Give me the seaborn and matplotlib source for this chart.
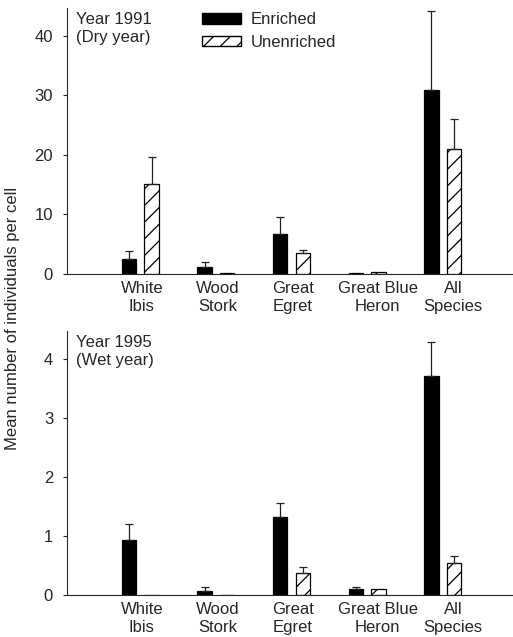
"""
Mean number of wading birds per cell, enriched vs unenriched cells,
dry year (1991) and wet year (1995).
"""
import seaborn as sns
import pandas as pd
import matplotlib
matplotlib.use("Agg")
import matplotlib.pyplot as plt
from matplotlib.patches import Patch

species = ["White\nIbis", "Wood\nStork", "Great\nEgret", "Great Blue\nHeron", "All\nSpecies"]
treatments = ["Enriched", "Unenriched"]

# 1991 (dry year)
enr_1991 = [2.6, 1.2, 6.8, 0.15, 30.9]
enr_1991_se = [1.3, 0.8, 2.7, 0.0, 13.3]
unenr_1991 = [15.1, 0.2, 3.5, 0.25, 21.0]
unenr_1991_se = [4.5, 0.0, 0.5, 0.0, 5.0]

# 1995 (wet year)
enr_1995 = [0.93, 0.07, 1.33, 0.11, 3.72]
enr_1995_se = [0.27, 0.06, 0.23, 0.03, 0.57]
unenr_1995 = [0.0, 0.0, 0.38, 0.10, 0.55]
unenr_1995_se = [0.0, 0.0, 0.10, 0.0, 0.12]

# small nudge of the category labels, as in the original figure
label_shift = [0.02, 0.03, 0.02, 0.14, 0.14]

FS = 12
sns.set_style("ticks")
plt.rcParams["font.family"] = ["Liberation Sans", "DejaVu Sans"]
plt.rcParams["font.size"] = FS
plt.rcParams["hatch.linewidth"] = 0.9


def make_df(enr, unenr):
    return pd.DataFrame({
        "species": species * 2,
        "treatment": [treatments[0]] * len(species) + [treatments[1]] * len(species),
        "value": list(enr) + list(unenr),
    })


def draw_panel(ax, enr, enr_se, unenr, unenr_se, ymax, ticks, note):
    df = make_df(enr, unenr)
    sns.barplot(data=df, x="species", y="value", hue="treatment", order=species,
                hue_order=treatments, palette=["black", "white"], width=0.6,
                edgecolor="black", linewidth=0.9, errorbar=None, legend=False, ax=ax)
    errs = [enr_se, unenr_se]
    bar_groups = list(ax.containers)
    for k, cont in enumerate(bar_groups):
        for bar, e in zip(cont.patches, errs[k]):
            w = bar.get_width()
            bar.set_x(bar.get_x() + (w - 0.19) / 2)
            bar.set_width(0.19)
            if k == 1:
                bar.set_hatch("//")
            if e > 0:
                ax.errorbar(bar.get_x() + bar.get_width() / 2, bar.get_height(),
                            yerr=[[0], [e]], color="#222222", lw=0.9,
                            capsize=3, capthick=0.9, zorder=1)
    ax.set_xticks([i + s for i, s in enumerate(label_shift)])
    ax.set_xticklabels(species)
    ax.set_xlim(-0.97, 4.93)
    ax.set_ylim(0, ymax)
    ax.set_yticks(ticks)
    ax.set_xlabel("")
    ax.set_ylabel("")
    ax.tick_params(axis="x", length=0, pad=5, labelsize=FS)
    ax.tick_params(axis="y", length=3, width=0.8, pad=7, labelsize=FS)
    for lab in ax.get_xticklabels():
        lab.set_multialignment("center")
        lab.set_linespacing(1.25)
    sns.despine(ax=ax)
    ax.text(0.02, 0.985, note, transform=ax.transAxes, ha="left", va="top",
            fontsize=FS, linespacing=1.25)


fig = plt.figure(figsize=(5.13, 6.37), dpi=100)
ax1 = fig.add_axes([0.1306, 0.5699, 0.8694, 0.4175])
ax2 = fig.add_axes([0.1306, 0.0659, 0.8694, 0.4145])

draw_panel(ax1, enr_1991, enr_1991_se, unenr_1991, unenr_1991_se,
           44.7, [0, 10, 20, 30, 40], "Year 1991\n(Dry year)")
draw_panel(ax2, enr_1995, enr_1995_se, unenr_1995, unenr_1995_se,
           4.48, [0, 1, 2, 3, 4], "Year 1995\n(Wet year)")

handles = [Patch(facecolor="black", edgecolor="black", label="Enriched"),
           Patch(facecolor="white", edgecolor="black", hatch="//", label="Unenriched")]
ax1.legend(handles=handles, loc="upper left", bbox_to_anchor=(0.269, 1.04),
           frameon=False, handlelength=2.35, handleheight=0.6,
           handletextpad=0.55, labelspacing=0.45, fontsize=FS)

fig.text(0.025, 0.5, "Mean number of individuals per cell", rotation=90,
         ha="center", va="center", fontsize=FS)

fig.savefig("out.png", dpi=100)
